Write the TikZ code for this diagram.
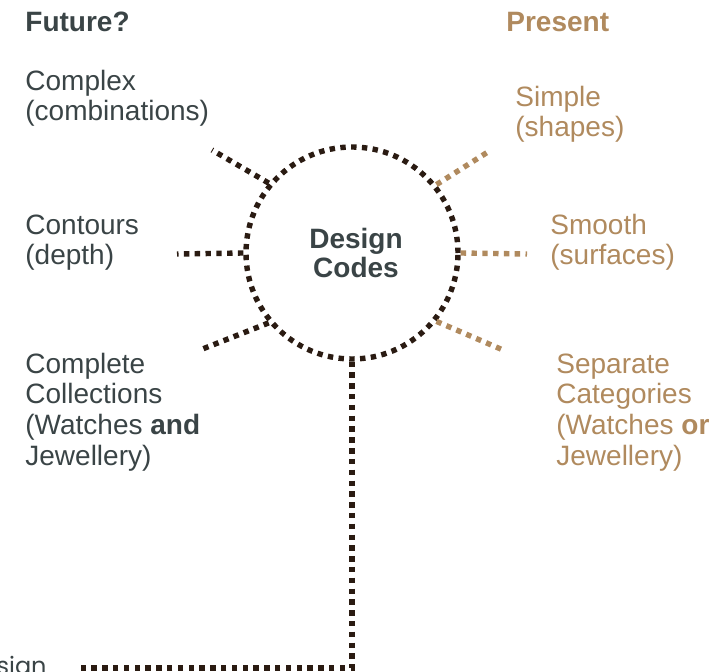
\documentclass[tikz,border=0pt]{standalone}
\usepackage{fontspec}
\setmainfont{Liberation Sans}
\newfontfamily\geofont{Poppins}
\usepackage{tikz}

\definecolor{inkgray}{HTML}{3A4446}
\definecolor{dotbrown}{HTML}{2A1B12}
\definecolor{tan}{HTML}{B08A5E}

\tikzset{
  dots/.style={line width=2.7pt, dash pattern=on 2.7pt off 2.7pt},
  futurelabel/.style={anchor=base west, align=left, inner sep=0pt, text=inkgray},
  presentlabel/.style={anchor=base west, align=left, inner sep=0pt, text=tan},
}

\begin{document}
\begin{tikzpicture}[x=0.5pt,y=-0.5pt,font=\fontsize{14}{15.25}\selectfont]
\useasboundingbox (0,0) rectangle (726,672);
\clip (0,0) rectangle (726,672);

% headings
\node[futurelabel] (future) at (25,32) {\bfseries Future?};
\node[presentlabel] (present) at (506,32) {\bfseries Present};

% centre
\node[circle, draw=dotbrown, dots, minimum size=106pt, inner sep=0pt, align=center,
      text=inkgray, font=\fontsize{14}{13}\selectfont\bfseries] (codes) at (352,253) {\hspace{4pt}Design\\\hspace{4pt}Codes};

% future side (anchored on the last line)
\node[futurelabel] (complex) at (25,121) {Complex\\(combinations)};
\node[futurelabel] (contours) at (25,265) {Contours\\(depth)};
\node[futurelabel] (complete) at (25,465) {Complete\\Collections\\(Watches \textbf{and}\\Jewellery)};

% present side
\node[presentlabel] (simple) at (515,137) {Simple\\(shapes)};
\node[presentlabel] (smooth) at (550,265) {Smooth\\(surfaces)};
\node[presentlabel] (separate) at (556,465) {Separate\\Categories\\(Watches \textbf{or}\\Jewellery)};

% spoke ends
\coordinate (complex-tip) at (212,150);
\coordinate (contours-tip) at (177,254);
\coordinate (complete-tip) at (200,350);
\coordinate (simple-tip) at (491,150);
\coordinate (smooth-tip) at (527,254);
\coordinate (separate-tip) at (503,350);

\draw[dots, dotbrown] (codes.140) -- (complex-tip);
\draw[dots, dotbrown] (codes.180) -- (contours-tip);
\draw[dots, dotbrown] (codes.220) -- (complete-tip);
\draw[dots, tan] (codes.39) -- (simple-tip);
\draw[dots, tan] (codes.0) -- (smooth-tip);
\draw[dots, tan] (codes.-39) -- (separate-tip);

% bottom
\node[anchor=base east, inner sep=0pt, text=inkgray, font=\geofont\fontsize{12}{14}\selectfont] (design) at (47,674) {Design};
\coordinate (design-tip) at (77,668);
\draw[dots, dotbrown] (codes.south) |- (design-tip);

\end{tikzpicture}
\end{document}
